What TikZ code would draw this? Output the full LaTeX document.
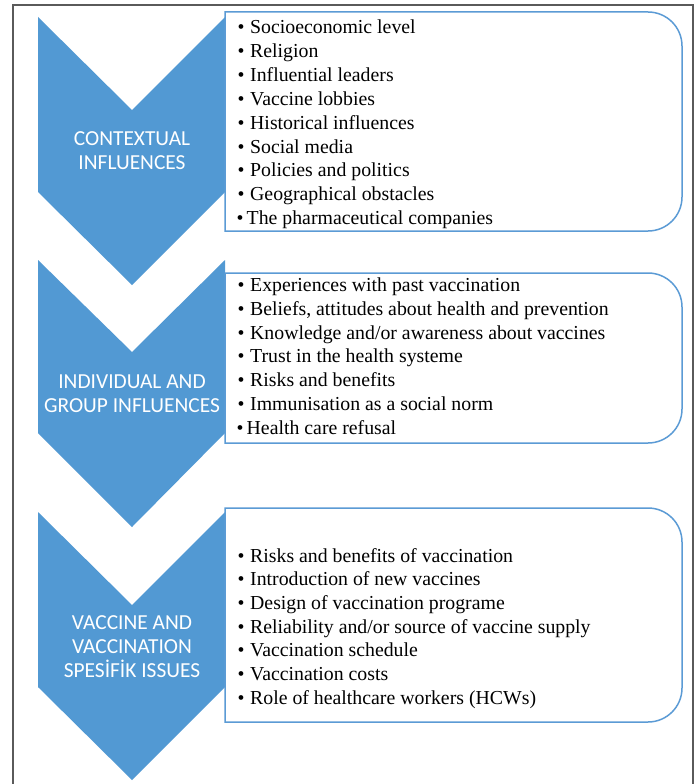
\documentclass[tikz,border=0pt]{standalone}
\usepackage{fontspec}
\setmainfont{Liberation Serif}
\newfontfamily\labelfont{Carlito}
\definecolor{chev}{HTML}{5299D3}
\definecolor{boxline}{HTML}{5B9BD5}
\definecolor{framegray}{HTML}{5A5A5A}
\begin{document}
\begin{tikzpicture}[x=1pt,y=-1pt,
  chevron/.style={fill=chev,draw=none},
  listbox/.style={draw=boxline,line width=1.5pt,fill=white},
  stage/.style={text=white,font=\labelfont\fontsize{21.4}{24}\selectfont,align=center,inner sep=0pt},
  item/.style={anchor=base west,font=\fontsize{19.8}{24}\selectfont,inner sep=0pt},
  dot/.style={anchor=base,font=\fontsize{19.8}{24}\selectfont,inner sep=0pt}]
\useasboundingbox (0,0) rectangle (696,784);
\fill[white] (0,0) rectangle (696,784);
% outer frame, open at the bottom
\draw[framegray,line width=1.4pt] (13,784) -- (13,5) -- (693,5) -- (693,784);

% chevrons
\fill[chevron] (38,17) -- (132,110) -- (225,17) -- (225,192) -- (132,285) -- (38,192) -- cycle;
\fill[chevron] (38,260) -- (132,352) -- (225,260) -- (225,433) -- (132,527) -- (38,433) -- cycle;
\fill[chevron] (38,512) -- (132,605) -- (225,512) -- (225,687) -- (132,780) -- (38,687) -- cycle;

% list boxes, square on the left and rounded on the right
\draw[listbox] (225,12) -- (500,12) [rounded corners=34] -- (682,12) -- (682,231) -- (500,231) [sharp corners] -- (225,231) -- cycle;
\draw[listbox] (225,273) -- (500,273) [rounded corners=34] -- (682,273) -- (682,443) -- (500,443) [sharp corners] -- (225,443) -- cycle;
\draw[listbox] (225,508) -- (500,508) [rounded corners=34] -- (682,508) -- (682,722) -- (500,722) [sharp corners] -- (225,722) -- cycle;

% stage labels
\node[stage] (s1) at (132,151) {CONTEXTUAL\\INFLUENCES};
\node[stage] (s2) at (132,393.5) {INDIVIDUAL AND\\GROUP INFLUENCES};
\node[stage] (s3) at (132,647) {VACCINE AND\\VACCINATION\\SPES\.{I}F\.{I}K ISSUES};

% contextual influences
\foreach \t [count=\i] in {Socioeconomic level, Religion, Influential leaders, Vaccine lobbies,
  Historical influences, Social media, Policies and politics, Geographical obstacles}{
  \node[dot] (ca\i) at (241,{33.5+23.9*(\i-1)}) {\textbullet};
  \node[item] (c\i) at (250,{33.5+23.9*(\i-1)}) {\t};
}
\node[dot] (ca9) at (240,{33.5+23.9*8}) {\textbullet};
\node[item] (c9) at (246.5,{33.5+23.9*8}) {The pharmaceutical companies};

% individual and group influences
\foreach \t [count=\i] in {Experiences with past vaccination, {Beliefs, attitudes about health and prevention},
  Knowledge and/or awareness about vaccines, Trust in the health systeme, Risks and benefits,
  Immunisation as a social norm}{
  \node[dot] (ga\i) at (241,{291.5+23.8*(\i-1)}) {\textbullet};
  \node[item] (g\i) at (250,{291.5+23.8*(\i-1)}) {\t};
}
\node[dot] (ga7) at (240,{291.5+23.8*6}) {\textbullet};
\node[item] (g7) at (246.5,{291.5+23.8*6}) {Health care refusal};

% vaccine and vaccination specific issues
\foreach \t [count=\i] in {Risks and benefits of vaccination, Introduction of new vaccines,
  Design of vaccination programe, Reliability and/or source of vaccine supply,
  Vaccination schedule, Vaccination costs, Role of healthcare workers (HCWs)}{
  \node[dot] (va\i) at (241,{562+23.7*(\i-1)}) {\textbullet};
  \node[item] (v\i) at (250,{562+23.7*(\i-1)}) {\t};
}
\end{tikzpicture}
\end{document}
